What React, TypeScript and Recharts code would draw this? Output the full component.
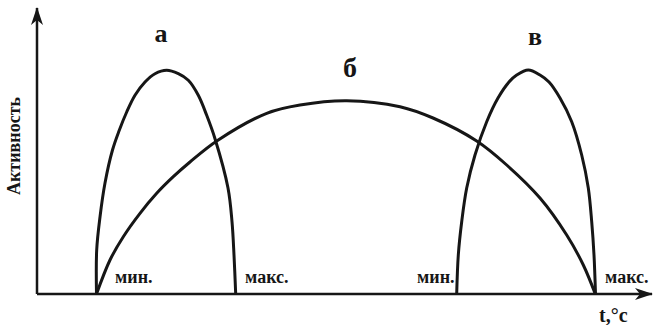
import React from 'react';
import { LineChart, Line, XAxis, YAxis, ReferenceDot } from 'recharts';

// Curve "а" (low-temperature enzyme)
const curveA = [
  { x: 59.5, y: 0 }, { x: 59.7, y: 44 }, { x: 63, y: 77 }, { x: 68, y: 111 },
  { x: 75.5, y: 144 }, { x: 82, y: 163 }, { x: 89.7, y: 182 }, { x: 98, y: 198.7 },
  { x: 108, y: 212 }, { x: 118, y: 220.3 }, { x: 129.7, y: 223.7 }, { x: 141.3, y: 220.3 },
  { x: 151.3, y: 213.7 }, { x: 161.3, y: 198.7 }, { x: 169.7, y: 178.7 }, { x: 178, y: 155.3 },
  { x: 191, y: 106 }, { x: 195, y: 72.3 }, { x: 197, y: 39 }, { x: 198.7, y: 0 },
];

// Curve "б" (wide range)
const curveB = [
  { x: 59.5, y: 0 }, { x: 73, y: 34 }, { x: 86.3, y: 57.3 }, { x: 103, y: 80.7 },
  { x: 119.7, y: 100.7 }, { x: 136.3, y: 117.3 }, { x: 153, y: 132 }, { x: 180.5, y: 153.5 },
  { x: 229.7, y: 180.7 }, { x: 263, y: 189 }, { x: 309.7, y: 193.3 }, { x: 363, y: 187.3 },
  { x: 396, y: 176 }, { x: 439.7, y: 153 }, { x: 469.7, y: 129 }, { x: 503, y: 96 },
  { x: 529.7, y: 59 }, { x: 546.3, y: 29 }, { x: 558.3, y: 0 },
];

// Curve "в" (high-temperature enzyme)
const curveV = [
  { x: 419.7, y: 0 }, { x: 421.3, y: 39 }, { x: 424.7, y: 72.3 }, { x: 429.7, y: 106 },
  { x: 438, y: 139 }, { x: 449.7, y: 172.3 }, { x: 461, y: 196 }, { x: 472, y: 212 },
  { x: 479.7, y: 219 }, { x: 491.3, y: 224 }, { x: 503, y: 219 }, { x: 512, y: 212 },
  { x: 523, y: 196 }, { x: 534.7, y: 172.3 }, { x: 544.7, y: 139 }, { x: 551.3, y: 106 },
  { x: 554.7, y: 72.3 }, { x: 557, y: 39 }, { x: 558.5, y: 0 },
];

// Curve letters
const letterTexts = ['а', 'б', 'в'];
const letterX = [124, 313, 498];
const letterY = [252, 217, 249];
const letterSizes = [26, 28, 26];

// Limit labels
const limitTexts = ['мин.', 'макс.', 'мин.', 'макс.'];
const limitX = [78, 208, 380, 568];
const limitY = [11, 11, 11, 11];

const xAxisTitle = 't,°c';
const xTitlePos = { x: 562, y: -28 };
const yAxisTitle = 'Активность';
const yTitlePos = { x: -17, y: 148 };

const X_DOMAIN: [number, number] = [0, 615];
const Y_DOMAIN: [number, number] = [0, 286];

const FONT = '"Liberation Serif", "Times New Roman", serif';
const INK = '#161616';

// Centripetal Catmull-Rom curve factory (d3-style interface) for smooth arcs
function catmullRom(context: any) {
  let pts: number[][] = [];
  const alpha = 0.5;
  return {
    areaStart() {},
    areaEnd() {},
    lineStart() { pts = []; },
    point(x: number, y: number) { pts.push([+x, +y]); },
    lineEnd() {
      if (!pts.length) return;
      context.moveTo(pts[0][0], pts[0][1]);
      for (let i = 0; i < pts.length - 1; i++) {
        const p1 = pts[i];
        const p2 = pts[i + 1];
        const p0 = i > 0 ? pts[i - 1] : p1;
        const p3 = i + 2 < pts.length ? pts[i + 2] : p2;
        const d = (a: number[], b: number[]) => Math.hypot(b[0] - a[0], b[1] - a[1]);
        const l01 = d(p0, p1), l12 = d(p1, p2), l23 = d(p2, p3);
        const l01a = Math.pow(l01, alpha), l01_2a = Math.pow(l01, 2 * alpha);
        const l12a = Math.pow(l12, alpha), l12_2a = Math.pow(l12, 2 * alpha);
        const l23a = Math.pow(l23, alpha), l23_2a = Math.pow(l23, 2 * alpha);
        let x1 = p1[0], y1 = p1[1], x2 = p2[0], y2 = p2[1];
        if (l01a > 1e-9) {
          const a = 2 * l01_2a + 3 * l01a * l12a + l12_2a;
          const n = 3 * l01a * (l01a + l12a);
          x1 = (p1[0] * a - p0[0] * l12_2a + p2[0] * l01_2a) / n;
          y1 = (p1[1] * a - p0[1] * l12_2a + p2[1] * l01_2a) / n;
        }
        if (l23a > 1e-9) {
          const b = 2 * l23_2a + 3 * l23a * l12a + l12_2a;
          const m = 3 * l23a * (l23a + l12a);
          x2 = (p2[0] * b + p1[0] * l23_2a - p3[0] * l12_2a) / m;
          y2 = (p2[1] * b + p1[1] * l23_2a - p3[1] * l12_2a) / m;
        }
        context.bezierCurveTo(x1, y1, x2, y2, p2[0], p2[1]);
      }
    },
  };
}

const makeText = (text: string, size: number, anchor: string, rotate = false) =>
  (p: any) => (
    <text
      x={p.cx}
      y={p.cy}
      textAnchor={anchor}
      fontFamily={FONT}
      fontWeight="bold"
      fontSize={size}
      fill={INK}
      transform={rotate ? `rotate(-90 ${p.cx} ${p.cy})` : undefined}
    >
      {text}
    </text>
  );

export default function App() {
  return (
    <div style={{ position: 'absolute', left: 0, top: 0, width: 653, height: 325, background: '#fff' }}>
      <svg width={0} height={0} style={{ position: 'absolute' }}>
        <defs>
          <marker id="arrowHead" markerUnits="userSpaceOnUse" markerWidth={18} markerHeight={12}
            refX={17} refY={6} orient="auto-start-reverse" viewBox="0 0 18 12">
            <path d="M0,0 L18,6 L0,12 L5,6 Z" fill={INK} />
          </marker>
        </defs>
      </svg>
      <LineChart width={653} height={325} margin={{ top: 8, right: 1, bottom: 30, left: 36 }}>
        <XAxis
          type="number"
          dataKey="x"
          domain={X_DOMAIN}
          height={1}
          tick={false}
          tickLine={false}
          axisLine={{ stroke: INK, strokeWidth: 2.5, markerEnd: 'url(#arrowHead)' } as any}
        />
        <YAxis
          type="number"
          dataKey="y"
          domain={Y_DOMAIN}
          width={1}
          tick={false}
          tickLine={false}
          axisLine={{ stroke: INK, strokeWidth: 2.5, markerStart: 'url(#arrowHead)' } as any}
        />
        <Line data={curveB} dataKey="y" type={catmullRom as any} stroke={INK} strokeWidth={3} dot={false} isAnimationActive={false} />
        <Line data={curveA} dataKey="y" type={catmullRom as any} stroke={INK} strokeWidth={3} dot={false} isAnimationActive={false} />
        <Line data={curveV} dataKey="y" type={catmullRom as any} stroke={INK} strokeWidth={3} dot={false} isAnimationActive={false} />
        {letterTexts.map((t, i) => (
          <ReferenceDot key={'l' + i} x={letterX[i]} y={letterY[i]} r={1} ifOverflow="visible"
            shape={makeText(t, letterSizes[i], 'middle')} />
        ))}
        {limitTexts.map((t, i) => (
          <ReferenceDot key={'m' + i} x={limitX[i]} y={limitY[i]} r={1} ifOverflow="visible"
            shape={makeText(t, 18, 'start')} />
        ))}
        <ReferenceDot x={xTitlePos.x} y={xTitlePos.y} r={1} ifOverflow="visible"
          shape={makeText(xAxisTitle, 20, 'start')} />
        <ReferenceDot x={yTitlePos.x} y={yTitlePos.y} r={1} ifOverflow="visible"
          shape={makeText(yAxisTitle, 18, 'middle', true)} />
      </LineChart>
    </div>
  );
}
